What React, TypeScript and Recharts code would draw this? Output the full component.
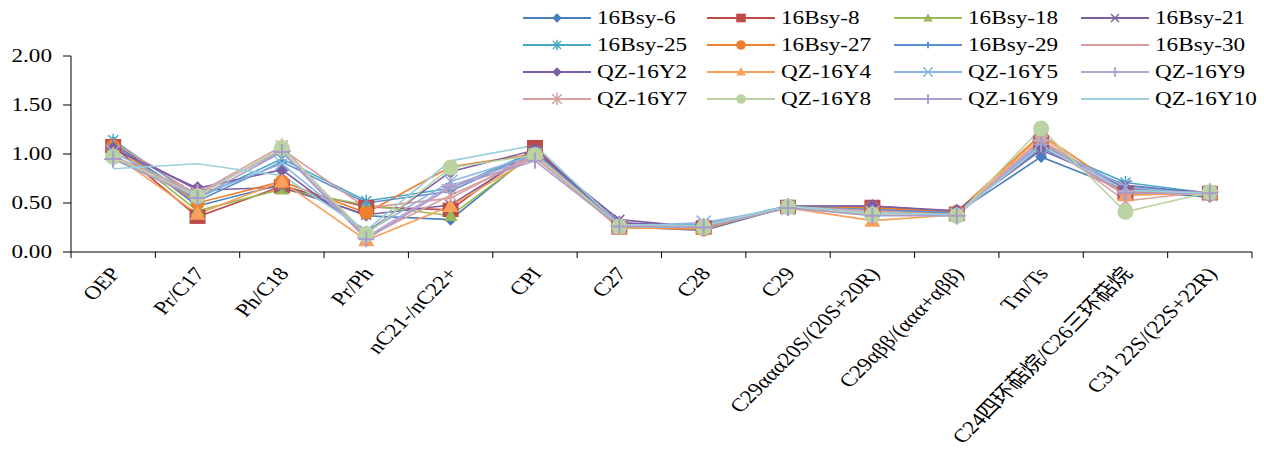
import React from "react";
import { LineChart, Line, XAxis, YAxis } from "recharts";

const categories = [
  "OEP",
  "Pr/C17",
  "Ph/C18",
  "Pr/Ph",
  "nC21-/nC22+",
  "CPI",
  "C27",
  "C28",
  "C29",
  "C29ααα20S/(20S+20R)",
  "C29αββ/(ααα+αββ)",
  "Tm/Ts",
  "C24四环萜烷/C26三环萜烷",
  "C31 22S/(22S+22R)",
];

const yTicks = [0, 0.5, 1, 1.5, 2];

const bsy6 = [1.12, 0.47, 0.69, 0.37, 0.33, 1.03, 0.26, 0.22, 0.46, 0.45, 0.4, 0.97, 0.63, 0.56];
const bsy8 = [1.08, 0.36, 0.67, 0.46, 0.43, 1.07, 0.25, 0.25, 0.46, 0.46, 0.39, 1.12, 0.6, 0.6];
const bsy18 = [1.1, 0.42, 0.64, 0.48, 0.37, 1.01, 0.26, 0.24, 0.46, 0.44, 0.38, 1.1, 0.64, 0.6];
const bsy21 = [1.09, 0.63, 0.66, 0.38, 0.48, 1.02, 0.33, 0.25, 0.46, 0.47, 0.41, 1.04, 0.68, 0.6];
const bsy25 = [1.14, 0.55, 0.95, 0.52, 0.65, 1.03, 0.27, 0.28, 0.47, 0.44, 0.4, 1.08, 0.71, 0.6];
const bsy27 = [1.08, 0.5, 0.72, 0.4, 0.87, 1.0, 0.25, 0.23, 0.47, 0.45, 0.41, 1.2, 0.62, 0.59];
const bsy29 = [1.1, 0.52, 0.92, 0.5, 0.62, 1.02, 0.28, 0.27, 0.46, 0.43, 0.4, 1.06, 0.67, 0.6];
const bsy30 = [1.12, 0.58, 1.05, 0.45, 0.55, 1.0, 0.27, 0.26, 0.46, 0.42, 0.38, 1.1, 0.58, 0.61];
const qzY2 = [1.05, 0.65, 0.84, 0.2, 0.82, 1.04, 0.3, 0.26, 0.47, 0.47, 0.42, 1.08, 0.65, 0.61];
const qzY4 = [1.0, 0.39, 0.72, 0.12, 0.47, 0.98, 0.24, 0.25, 0.45, 0.32, 0.38, 1.18, 0.58, 0.6];
const qzY5 = [1.02, 0.57, 0.9, 0.2, 0.72, 0.99, 0.26, 0.3, 0.45, 0.4, 0.38, 1.12, 0.66, 0.59];
const qzY9a = [0.95, 0.6, 1.03, 0.15, 0.68, 0.96, 0.27, 0.25, 0.46, 0.38, 0.37, 1.14, 0.62, 0.61];
const qzY7 = [0.98, 0.6, 1.08, 0.15, 0.58, 0.97, 0.26, 0.27, 0.46, 0.4, 0.38, 1.15, 0.52, 0.62];
const qzY8 = [0.97, 0.57, 1.06, 0.18, 0.86, 0.99, 0.26, 0.25, 0.46, 0.38, 0.37, 1.26, 0.41, 0.61];
const qzY9b = [0.95, 0.55, 1.02, 0.13, 0.66, 0.93, 0.26, 0.25, 0.45, 0.37, 0.37, 1.1, 0.6, 0.6];
const qzY10 = [0.85, 0.9, 0.78, 0.22, 0.93, 1.09, 0.28, 0.27, 0.47, 0.4, 0.38, 1.08, 0.63, 0.6];

type Shape = "diamond" | "square" | "triangle" | "x" | "star" | "circle" | "plus" | "none";

interface Series {
  name: string;
  values: number[];
  color: string;
  shape: Shape;
  size: number;
}

const series: Series[] = [
  { name: "16Bsy-6", values: bsy6, color: "#4A7EBB", shape: "diamond", size: 6 },
  { name: "16Bsy-8", values: bsy8, color: "#BE4B48", shape: "square", size: 8 },
  { name: "16Bsy-18", values: bsy18, color: "#98B954", shape: "triangle", size: 7 },
  { name: "16Bsy-21", values: bsy21, color: "#7D60A0", shape: "x", size: 5 },
  { name: "16Bsy-25", values: bsy25, color: "#46AAC5", shape: "star", size: 5 },
  { name: "16Bsy-27", values: bsy27, color: "#F07F2D", shape: "circle", size: 7 },
  { name: "16Bsy-29", values: bsy29, color: "#5B8FD0", shape: "plus", size: 4 },
  { name: "16Bsy-30", values: bsy30, color: "#DE9A9A", shape: "none", size: 0 },
  { name: "QZ-16Y2", values: qzY2, color: "#7A5EA8", shape: "diamond", size: 7 },
  { name: "QZ-16Y4", values: qzY4, color: "#F9A05B", shape: "triangle", size: 8 },
  { name: "QZ-16Y5", values: qzY5, color: "#8EB4E3", shape: "x", size: 7 },
  { name: "QZ-16Y9", values: qzY9a, color: "#B4A7D6", shape: "plus", size: 9 },
  { name: "QZ-16Y7", values: qzY7, color: "#D9A0A0", shape: "star", size: 6 },
  { name: "QZ-16Y8", values: qzY8, color: "#B9D3A3", shape: "circle", size: 8 },
  { name: "QZ-16Y9", values: qzY9b, color: "#A99BCB", shape: "plus", size: 8 },
  { name: "QZ-16Y10", values: qzY10, color: "#9ACFDB", shape: "none", size: 0 },
];

const data = categories.map((name, i) => {
  const row: Record<string, any> = { name };
  series.forEach((s, k) => {
    row["s" + k] = s.values[i];
  });
  return row;
});

const FONT = "'Liberation Serif', 'Noto Sans CJK SC', serif";
const SX = 1.22;

function Marker({ cx, cy, shape, r, color }: { cx: number; cy: number; shape: Shape; r: number; color: string }) {
  if (cx == null || cy == null) return null;
  switch (shape) {
    case "diamond":
      return <path d={`M${cx},${cy - r}L${cx + r},${cy}L${cx},${cy + r}L${cx - r},${cy}Z`} fill={color} />;
    case "square":
      return <rect x={cx - r} y={cy - r * 0.9} width={r * 2} height={r * 1.8} fill={color} />;
    case "triangle":
      return <path d={`M${cx},${cy - r}L${cx + r},${cy + r * 0.75}L${cx - r},${cy + r * 0.75}Z`} fill={color} />;
    case "circle":
      return <circle cx={cx} cy={cy} r={r} fill={color} />;
    case "x":
      return (
        <path
          d={`M${cx - r},${cy - r}L${cx + r},${cy + r}M${cx - r},${cy + r}L${cx + r},${cy - r}`}
          stroke={color}
          strokeWidth={1.5}
        />
      );
    case "plus":
      return (
        <path d={`M${cx - r},${cy}L${cx + r},${cy}M${cx},${cy - r}L${cx},${cy + r}`} stroke={color} strokeWidth={2} />
      );
    case "star":
      return (
        <path
          d={`M${cx - r},${cy - r}L${cx + r},${cy + r}M${cx - r},${cy + r}L${cx + r},${cy - r}M${cx},${cy - r * 1.3}L${cx},${cy + r * 1.3}`}
          stroke={color}
          strokeWidth={1.5}
        />
      );
    default:
      return null;
  }
}

const YTick = ({ x, y, payload }: any) => (
  <text
    transform={`translate(${x},${y}) scale(${SX},1)`}
    textAnchor="end"
    dominantBaseline="central"
    fontSize={19}
    fontFamily={FONT}
    fill="#000"
  >
    {Number(payload.value).toFixed(2)}
  </text>
);

// category labels plus the tick marks that sit on the band edges
const XTick = ({ x, y, payload, index, visibleTicksCount }: any) => {
  const half = payload.offset || 0;
  return (
    <g>
      <line x1={x - half} y1={y} x2={x - half} y2={y + 6} stroke="#000" strokeWidth={1} />
      {index === visibleTicksCount - 1 && (
        <line x1={x + half} y1={y} x2={x + half} y2={y + 6} stroke="#000" strokeWidth={1} />
      )}
      <text
        transform={`translate(${x + 8},${y + 22}) scale(${SX},1) rotate(-50.7)`}
        textAnchor="end"
        fontSize={19}
        fontFamily={FONT}
        fill="#000"
      >
        {payload.value}
      </text>
    </g>
  );
};

const legendCols = [523, 707, 894, 1081];

function Legend() {
  return (
    <div style={{ position: "absolute", left: 0, top: 0, width: 1264, height: 110, fontFamily: FONT }}>
      {series.map((s, i) => {
        const col = i % 4;
        const row = Math.floor(i / 4);
        return (
          <div
            key={i}
            style={{
              position: "absolute",
              left: legendCols[col],
              top: 5 + row * 27,
              height: 26,
              display: "flex",
              alignItems: "center",
              whiteSpace: "nowrap",
            }}
          >
            <svg width={68} height={20} style={{ display: "block" }}>
              <line x1={0} y1={10} x2={68} y2={10} stroke={s.color} strokeWidth={2} />
              <Marker cx={34} cy={10} shape={s.shape} r={Math.min(s.size, 6) * 0.8} color={s.color} />
            </svg>
            <span
              style={{
                display: "inline-block",
                marginLeft: 6,
                fontSize: 19,
                color: "#000",
                transform: `scaleX(${SX})`,
                transformOrigin: "left center",
              }}
            >
              {s.name}
            </span>
          </div>
        );
      })}
    </div>
  );
}

export default function App() {
  return (
    <div style={{ position: "absolute", left: 0, top: 0, width: 1264, height: 466, background: "#fff" }}>
      <LineChart width={1264} height={466} data={data} margin={{ top: 56, right: 12, bottom: 0, left: 0 }}>
        <XAxis
          dataKey="name"
          scale="band"
          interval={0}
          height={214}
          tickSize={0}
          tickMargin={0}
          tickLine={false}
          axisLine={{ stroke: "#000", strokeWidth: 1 }}
          tick={<XTick />}
        />
        <YAxis
          domain={[0, 2]}
          ticks={yTicks}
          width={71}
          tickSize={8}
          tickMargin={11}
          tickLine={{ stroke: "#000", strokeWidth: 1 }}
          axisLine={{ stroke: "#000", strokeWidth: 1 }}
          tick={<YTick />}
        />
        {series.map((s, k) => (
          <Line
            key={k}
            dataKey={"s" + k}
            name={s.name}
            stroke={s.color}
            strokeWidth={1.6}
            isAnimationActive={false}
            dot={
              s.shape === "none"
                ? false
                : (p: any) => (
                    <Marker key={`d${k}-${p.index}`} cx={p.cx} cy={p.cy} shape={s.shape} r={s.size} color={s.color} />
                  )
            }
            activeDot={false}
          />
        ))}
      </LineChart>
      <Legend />
    </div>
  );
}
